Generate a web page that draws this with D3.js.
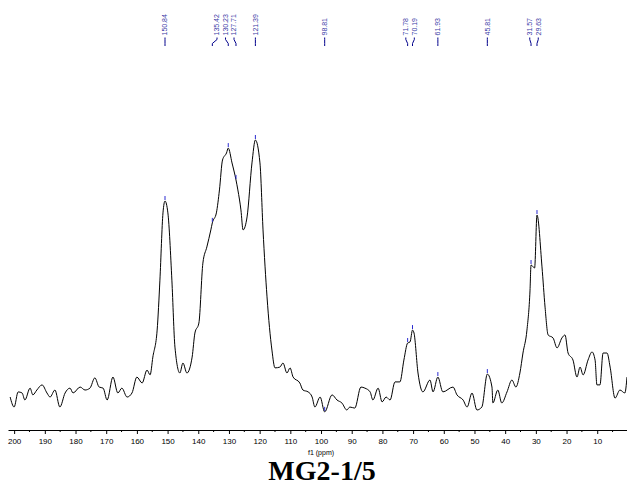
<!DOCTYPE html>
<html>
<head>
<meta charset="utf-8">
<script src="https://cdn.jsdelivr.net/npm/d3@7"></script>
<style>
  html, body { margin: 0; padding: 0; background: #fff; }
  svg { display: block; }
</style>
</head>
<body>
<svg id="chart" width="627" height="490"></svg>
<script>
// 13C spectrum trace: chemical shift (ppm) and relative intensity
const shifts = [
  201.3, 200.0, 198.7, 197.4, 196.5, 194.8, 193.9, 192.6, 190.9, 189.3,
  188.3, 186.7, 185.1, 183.4, 181.8, 180.8, 178.5, 176.9, 175.3, 173.7,
  172.3, 171.0, 169.7, 167.8, 166.2, 164.9, 163.2, 161.6, 160.0, 158.3,
  156.7, 155.7, 154.8, 153.4, 152.5, 151.5, 150.84, 149.9, 148.6, 147.6,
  146.0, 145.0, 143.7, 142.0, 141.1, 139.8, 138.5, 137.2, 135.9, 135.42,
  134.1, 133.1, 132.1, 130.8, 130.23, 129.0, 127.71, 127.1, 126.1, 125.4,
  124.1, 122.5, 121.39, 119.9, 118.9, 117.6, 116.0, 115.0, 113.4, 112.4,
  111.1, 110.1, 109.1, 106.9, 105.9, 104.2, 102.9, 102.0, 100.3, 98.81,
  96.4, 94.8, 93.2, 91.6, 90.6, 89.0, 87.0, 85.7, 84.0, 83.1,
  81.4, 80.1, 78.8, 77.5, 75.9, 74.3, 73.0, 71.78, 71.0, 70.19,
  69.7, 68.4, 66.8, 64.5, 63.5, 61.93, 60.3, 57.0, 55.7, 53.7,
  52.4, 50.8, 49.2, 47.6, 45.81, 44.3, 44.0, 42.4, 41.1, 39.4,
  37.8, 36.5, 35.2, 34.2, 32.9, 31.9, 31.57, 30.4, 29.63, 28.0,
  27.0, 26.0, 24.4, 23.1, 21.5, 20.5, 19.5, 17.9, 16.6, 15.6,
  14.6, 13.0, 11.7, 10.7, 10.1, 9.1, 8.1, 6.8, 5.8, 4.2,
  2.6, 1.0, 0.3
];
const intensities = [
  4.8, 1.1, 6.7, 6.3, 3.7, 8.1, 5.6, 7.4, 9.3, 6.3,
  4.8, 7.4, 1.1, 6.3, 8.1, 6.3, 8.5, 7.4, 8.1, 11.9,
  8.5, 8.1, 3.7, 12.2, 6.3, 8.1, 4.8, 6.3, 12.2, 10.0,
  14.8, 13.0, 19.6, 29.6, 48.1, 73.0, 77.4, 73.0, 48.1, 23.3,
  13.7, 17.4, 13.7, 19.6, 28.5, 32.2, 54.4, 60.4, 66.7, 69.3,
  73.0, 81.5, 92.6, 95.2, 97.0, 91.5, 85.2, 81.5, 74.1, 66.7,
  71.5, 91.5, 100.0, 91.5, 66.7, 41.9, 22.2, 15.6, 15.9, 17.4,
  13.7, 15.6, 12.2, 10.0, 7.4, 6.7, 4.8, 1.1, 4.8, -0.7,
  5.6, 3.7, 2.6, 0.0, 1.1, 0.7, 8.5, 8.1, 6.7, 3.7,
  8.1, 3.0, 4.8, 3.7, 10.4, 10.4, 18.5, 24.8, 25.2, 29.6,
  28.5, 13.7, 6.7, 11.1, 6.7, 12.2, 6.7, 8.5, 5.6, 3.7,
  1.1, 6.3, 0.0, 1.1, 13.3, 8.5, 2.6, 7.4, 2.6, 6.7,
  11.1, 8.5, 13.7, 21.1, 29.6, 44.4, 53.7, 52.6, 72.2, 53.0,
  38.1, 27.8, 26.7, 23.0, 26.7, 27.8, 21.1, 18.5, 12.2, 15.9,
  13.0, 18.5, 21.5, 18.5, 9.3, 9.3, 21.1, 21.1, 15.9, 4.4,
  7.4, 6.3, 12.2
];

// Picked peaks (ppm)
const peakShifts = [150.84, 135.42, 130.23, 127.71, 121.39, 98.81,
                    71.78, 70.19, 61.93, 45.81, 31.57, 29.63];

// Axis ticks
const majorTicks = d3.range(200, 9, -10);
const minorTicks = d3.range(195, 0, -5).filter(v => v % 10 !== 0);

const title = "MG2-1/5";
const axisTitle = "f1 (ppm)";

const svg = d3.select("#chart");
const W = 627;

const x = d3.scaleLinear().domain([202, 0.3]).range([8, W]);
const y = d3.scaleLinear().domain([0, 100]).range([410, 140]);
const axisY = 430;

const data = shifts.map((s, i) => ({ ppm: s, v: intensities[i] }));

// Spectrum trace
svg.append("defs").append("clipPath").attr("id", "plotclip")
  .append("rect").attr("x", 8).attr("y", 0).attr("width", W - 8).attr("height", axisY);

const line = d3.line()
  .x(d => x(d.ppm))
  .y(d => y(d.v))
  .curve(d3.curveMonotoneX);

svg.append("path")
  .datum(data)
  .attr("clip-path", "url(#plotclip)")
  .attr("fill", "none")
  .attr("stroke", "#000")
  .attr("stroke-width", 1)
  .attr("d", line);

// Intensity at a given shift, from the trace
const byPpm = data.slice().sort((a, b) => a.ppm - b.ppm);
const bis = d3.bisector(d => d.ppm).left;
function valueAt(p) {
  const i = bis(byPpm, p);
  if (i <= 0) return byPpm[0].v;
  if (i >= byPpm.length) return byPpm[byPpm.length - 1].v;
  const a = byPpm[i - 1], b = byPpm[i];
  const t = (p - a.ppm) / (b.ppm - a.ppm);
  return a.v + t * (b.v - a.v);
}

// Peak markers
const peakColor = "#00008b";
svg.append("g").selectAll("line")
  .data(peakShifts)
  .join("line")
  .attr("x1", d => x(d)).attr("x2", d => x(d))
  .attr("y1", d => y(valueAt(d)) - 5)
  .attr("y2", d => y(valueAt(d)) - 1)
  .attr("stroke", "#2a2ad0")
  .attr("stroke-width", 1);

// Spread peak labels: neighbouring peaks are gathered into evenly spaced groups
const sep = 8.5;
const mergeGap = 17;
const peaks = peakShifts.map(p => ({ ppm: p, px: x(p) })).sort((a, b) => a.px - b.px);
let groups = peaks.map(p => ({ items: [p], center: p.px }));
let changed = true;
while (changed) {
  changed = false;
  for (let i = 0; i < groups.length - 1; i++) {
    const g1 = groups[i], g2 = groups[i + 1];
    const end1 = g1.center + (g1.items.length - 1) * sep / 2;
    const start2 = g2.center - (g2.items.length - 1) * sep / 2;
    if (start2 - end1 < mergeGap) {
      const items = g1.items.concat(g2.items);
      const center = d3.mean(items, d => d.px);
      groups.splice(i, 2, { items, center });
      changed = true;
      break;
    }
  }
}
groups.forEach(g => {
  const n = g.items.length;
  g.items.forEach((it, k) => { it.lx = g.center + (k - (n - 1) / 2) * sep; });
});

const labelG = svg.append("g");
labelG.selectAll("path")
  .data(peaks)
  .join("path")
  .attr("fill", "none")
  .attr("stroke", peakColor)
  .attr("stroke-width", 1)
  .attr("d", d => `M${d.lx},37.5 L${d.lx},39.5 L${d.px},43.5 L${d.px},46`);

labelG.selectAll("text")
  .data(peaks)
  .join("text")
  .attr("transform", d => `translate(${d.lx},35.5) rotate(-90)`)
  .attr("dy", "0.35em")
  .attr("font-family", "Liberation Sans, Arial, sans-serif")
  .attr("font-size", 7)
  .attr("fill", "#3a3aa6")
  .text(d => d.ppm.toFixed(2));

// X axis
const axis = d3.axisBottom(x)
  .tickValues(majorTicks)
  .tickSize(4)
  .tickSizeOuter(0)
  .tickPadding(4)
  .tickFormat(d3.format("d"));

const ax = svg.append("g").attr("transform", `translate(0,${axisY})`).call(axis);
ax.select(".domain").attr("stroke", "#000");
ax.selectAll(".tick line").attr("stroke", "#000");
ax.selectAll(".tick text")
  .attr("font-family", "Liberation Sans, Arial, sans-serif")
  .attr("font-size", 8)
  .attr("fill", "#000");

ax.append("g").selectAll("line")
  .data(minorTicks)
  .join("line")
  .attr("x1", d => x(d)).attr("x2", d => x(d))
  .attr("y1", 0).attr("y2", 2)
  .attr("stroke", "#000");

svg.append("text")
  .attr("x", x(100))
  .attr("y", 454.5)
  .attr("text-anchor", "middle")
  .attr("font-family", "Liberation Sans, Arial, sans-serif")
  .attr("font-size", 7)
  .attr("fill", "#000")
  .text(axisTitle);

svg.append("text")
  .attr("x", 322)
  .attr("y", 480)
  .attr("text-anchor", "middle")
  .attr("font-family", "Liberation Serif, Times New Roman, serif")
  .attr("font-weight", "bold")
  .attr("font-size", 28)
  .attr("fill", "#000")
  .text(title);
</script>
</body>
</html>
